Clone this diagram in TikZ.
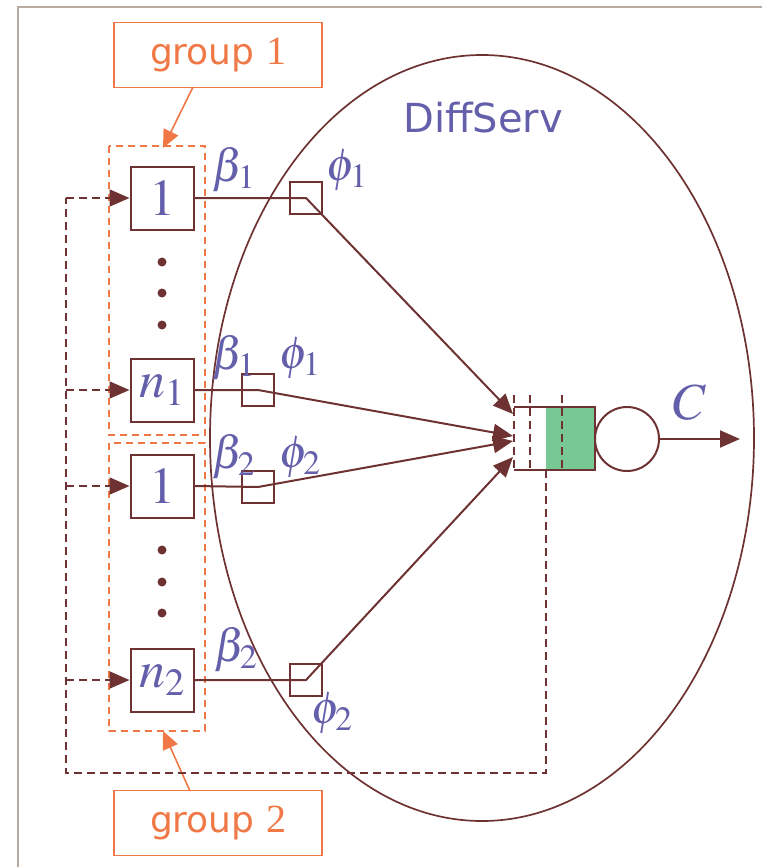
\RequirePackage{fix-cm}
\documentclass[tikz,border=0pt]{standalone}
\usepackage{mathptmx}
\usepackage{fontspec}
\setmainfont{Liberation Serif}
\setsansfont{DejaVu Sans}
\usetikzlibrary{arrows.meta}
\definecolor{lc}{RGB}{110,50,50}
\definecolor{tc}{RGB}{100,95,170}
\definecolor{oc}{RGB}{240,120,70}
\definecolor{gc}{RGB}{120,200,150}
\definecolor{fc}{RGB}{185,170,160}
\tikzset{
  ln/.style={draw=lc, line width=2pt},
  dl/.style={draw=lc, line width=1.8pt, dash pattern=on 8pt off 5pt},
  tip/.style={-{Triangle[length=20pt,width=17pt]}},
  flowbox/.style={draw=lc, line width=2pt, minimum size=63pt, inner sep=0pt, text=tc, font=\fontsize{52}{52}\selectfont},
  phisq/.style={draw=lc, line width=2pt, minimum size=32pt, inner sep=0pt},
  lab/.style={text=tc, font=\fontsize{46}{46}\selectfont, inner sep=0pt},
  grp/.style={draw=oc, line width=1.6pt, text=oc, minimum width=208pt, minimum height=65pt, inner sep=0pt, font=\fontsize{36}{36}\selectfont},
  gdash/.style={draw=oc, line width=1.6pt, dash pattern=on 7pt off 5pt},
  dotc/.style={fill=lc}
}
\begin{document}
\begin{tikzpicture}[x=1pt,y=-1pt]
\useasboundingbox (0,0) rectangle (762,867);
% frame
\draw[fc, line width=1.6pt] (18,867) -- (18,7) -- (762,7);
% ellipse
\draw[lc, line width=1.7pt] (482,438) ellipse [x radius=272, y radius=383];
\node[text=tc, font=\sffamily\fontsize{40}{40}\selectfont] (ds) at (483,118) {DiffServ};
% groups
\draw[gdash] (109,146) rectangle (205,435);
\draw[gdash] (109,443) rectangle (205,731);
\node[grp] (g1) at (218,55) {\sffamily group \rmfamily\fontsize{40}{40}\selectfont 1};
\node[grp] (g2) at (218,823) {\sffamily group \rmfamily\fontsize{40}{40}\selectfont 2};
\coordinate (g1t) at (163,148);
\coordinate (g2t) at (163,731);
\draw[oc, line width=1.6pt, -{Triangle[length=18pt,width=16pt]}] (193,87) -- (g1t);
\draw[oc, line width=1.6pt, -{Triangle[length=18pt,width=16pt]}] (190,791) -- (g2t);
% flows
\node[flowbox] (a1) at (162,198) {$1$};
\node[flowbox] (an) at (162,390) {$n_1$};
\node[flowbox] (b1) at (162,486) {$1$};
\node[flowbox] (bn) at (162,680) {$n_2$};
\foreach \y in {262,293,325,550,582,613} \fill[dotc] (162,\y) circle (4.5pt);
% phi squares
\node[phisq] (p1) at (306,198) {};
\node[phisq] (p2) at (258,390) {};
\node[phisq] (p3) at (258,487) {};
\node[phisq] (p4) at (306,680) {};
% queue
\fill[gc] (546,407) rectangle (595,470);
\draw[ln] (514,407) -- (595,407) -- (595,470) -- (514,470);
\foreach \x in {514,530,562} \draw[lc, line width=1.8pt, dash pattern=on 8pt off 5pt] (\x,395) -- (\x,470);
\node[draw=lc, line width=2pt, circle, minimum size=64pt, inner sep=0pt] (srv) at (627,439) {};
\coordinate (out) at (740,439);
\draw[ln, tip] (srv.east) -- (out);
\node[lab, font=\fontsize{52}{52}\selectfont] (cl) at (690,402) {$C$};
% queue entry points
\coordinate (q1) at (513,414);
\coordinate (q2) at (513,436);
\coordinate (q3) at (513,441);
\coordinate (q4) at (513,457);
\draw[ln, tip] (a1.east) -- (p1.center) -- (q1);
\draw[ln, tip] (an.east) -- (p2.center) -- (q2);
\draw[ln, tip] (b1.east) -- (p3.center) -- (q3);
\draw[ln, tip] (bn.east) -- (p4.center) -- (q4);
% labels
\node[lab] (lb1) at (234,170) {$\beta_1$};
\node[lab] (lf1) at (347,170) {$\phi_1$};
\node[lab] (lb2) at (234,358) {$\beta_1$};
\node[lab] (lf2) at (300,358) {$\phi_1$};
\node[lab] (lb3) at (234,457) {$\beta_2$};
\node[lab] (lf3) at (300,457) {$\phi_2$};
\node[lab] (lb4) at (236,650) {$\beta_2$};
\node[lab] (lf4) at (332,713) {$\phi_2$};
% feedback loop
\coordinate (fb) at (546,470);
\coordinate (fbb) at (546,773);
\coordinate (fbl) at (66,773);
\coordinate (fbt) at (66,198);
\draw[dl] (fb) -- (fbb) -- (fbl) -- (fbt);
\draw[dl, tip] (fbt) -- (a1.west);
\draw[dl, tip] (66,390) -- (an.west);
\draw[dl, tip] (66,486) -- (b1.west);
\draw[dl, tip] (66,680) -- (bn.west);
\end{tikzpicture}
\end{document}
